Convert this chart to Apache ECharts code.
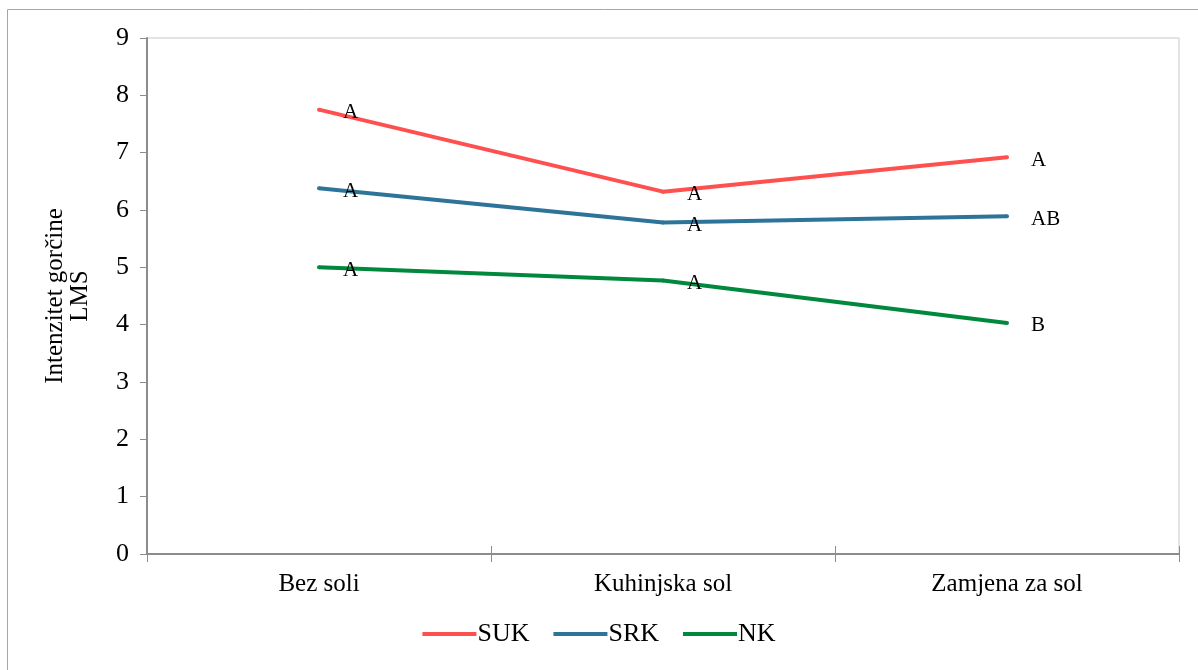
<!DOCTYPE html>
<html><head><meta charset="utf-8">
<script src="https://cdn.jsdelivr.net/npm/echarts@6/dist/echarts.min.js"></script>
<style>html,body{margin:0;padding:0;background:#fff}#c{width:1198px;height:670px}</style>
</head><body><div id="c"></div>
<script>
const categories = ['Bez soli', 'Kuhinjska sol', 'Zamjena za sol'];
const seriesNames = ['SUK', 'SRK', 'NK'];
const sukValues = [7.75, 6.32, 6.92];
const srkValues = [6.38, 5.78, 5.89];
const nkValues = [5.0, 4.77, 4.03];
const sukLetters = ['A', 'A', 'A'];
const srkLetters = ['A', 'A', 'AB'];
const nkLetters = ['A', 'A', 'B'];
const yTicks = [0, 1, 2, 3, 4, 5, 6, 7, 8, 9];

const colors = ['#FF5050', '#2E7499', '#00893D'];
const font = '"Liberation Serif", "Times New Roman", serif';
const chart = echarts.init(document.getElementById('c'));

function mk(name, vals, letters, color) {
  return {
    name: name, type: 'line', data: vals,
    symbol: 'circle', symbolSize: 4, showSymbol: true,
    lineStyle: { color: color, width: 4 },
    itemStyle: { color: color, borderWidth: 0 },
    label: {
      show: true, position: 'right', distance: 22, offset: [0, 3],
      formatter: p => letters[p.dataIndex],
      fontFamily: font, fontSize: 21, color: '#000'
    },
    z: 3
  };
}

chart.setOption({
  animation: false,
  backgroundColor: '#fff',
  graphic: [{
    type: 'rect', shape: { x: 7.5, y: 9.5, width: 1200, height: 700 },
    style: { fill: 'none', stroke: '#a6a6a6', lineWidth: 1 }, silent: true, z: -10
  }],
  grid: { left: 147, right: 19, top: 38, bottom: 116, show: true, borderColor: '#c8c8c8', borderWidth: 1 },
  legend: {
    bottom: 18, left: 'center',
    data: seriesNames,
    itemWidth: 54, itemHeight: 4, itemGap: 24,
    icon: 'rect',
    textStyle: { fontFamily: font, fontSize: 26, color: '#000', padding: [0, 0, 0, -4] }
  },
  xAxis: [{
    type: 'category', data: categories, boundaryGap: true,
    axisLine: { lineStyle: { color: '#8c8c8c', width: 2 } },
    axisTick: { show: true, length: 8, lineStyle: { color: '#8c8c8c', width: 1 } },
    axisLabel: { fontFamily: font, fontSize: 25, color: '#000', margin: 18 }
  }, {
    type: 'category', data: categories, boundaryGap: true, position: 'bottom',
    axisLine: { show: false },
    axisTick: { show: true, inside: true, length: 8, lineStyle: { color: '#8c8c8c', width: 1 } },
    axisLabel: { show: false }
  }],
  yAxis: {
    type: 'value', min: 0, max: 9, interval: 1,
    name: 'Intenzitet gorčine\nLMS', nameLocation: 'middle', nameGap: 54,
    nameTextStyle: { fontFamily: font, fontSize: 25, color: '#000', lineHeight: 25 },
    axisLine: { show: true, lineStyle: { color: '#8c8c8c', width: 2 } },
    axisTick: { show: true, length: 7, lineStyle: { color: '#8c8c8c', width: 1 } },
    splitLine: { show: false },
    axisLabel: { fontFamily: font, fontSize: 26, color: '#000', margin: 18, formatter: v => yTicks.includes(v) ? String(v) : '' }
  },
  series: [
    mk(seriesNames[0], sukValues, sukLetters, colors[0]),
    mk(seriesNames[1], srkValues, srkLetters, colors[1]),
    mk(seriesNames[2], nkValues, nkLetters, colors[2])
  ]
});
</script></body></html>
